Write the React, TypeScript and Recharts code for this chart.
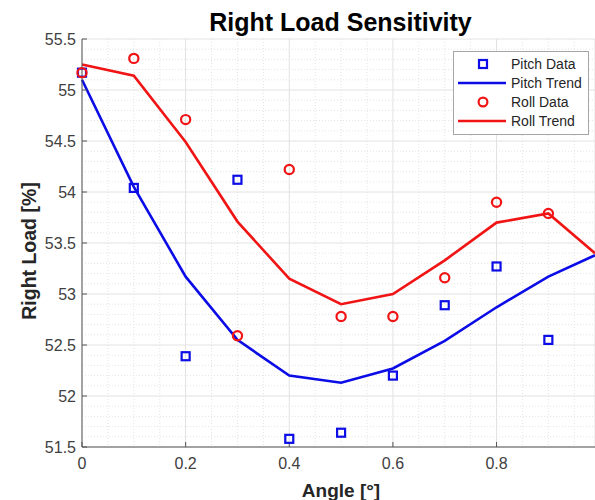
import {
  ComposedChart,
  Line,
  Scatter,
  XAxis,
  YAxis,
  CartesianGrid,
  Customized,
} from "recharts";

const angles = [0, 0.1, 0.2, 0.3, 0.4, 0.5, 0.6, 0.7, 0.8, 0.9];
const pitchData = [55.17, 54.04, 52.39, 54.12, 51.58, 51.64, 52.2, 52.89, 53.27, 52.55];
const rollData = [55.17, 55.31, 54.71, 52.59, 54.22, 52.78, 52.78, 53.16, 53.9, 53.79];

const trendAngles = [0, 0.1, 0.2, 0.3, 0.4, 0.5, 0.6, 0.7, 0.8, 0.9, 0.99];
const pitchTrend = [55.1, 54.05, 53.17, 52.55, 52.2, 52.13, 52.27, 52.54, 52.87, 53.17, 53.38];
const rollTrend = [55.25, 55.14, 54.49, 53.71, 53.15, 52.9, 53.0, 53.33, 53.7, 53.79, 53.4];

const xTicks = [0, 0.2, 0.4, 0.6, 0.8];
const yTicks = [51.5, 52, 52.5, 53, 53.5, 54, 54.5, 55, 55.5];
const xDomain = [0, 0.99];
const yDomain = [51.5, 55.5];

const FONT = "'Liberation Sans', Arial, sans-serif";
const BLUE = "#0c0ce6";
const RED = "#f01414";
const AXIS = "#555555";

const toPoints = (xs: number[], ys: number[]) => xs.map((x, i) => ({ x, y: ys[i] }));

const pitchPoints = toPoints(angles, pitchData);
const rollPoints = toPoints(angles, rollData);
const pitchTrendPoints = toPoints(trendAngles, pitchTrend);
const rollTrendPoints = toPoints(trendAngles, rollTrend);

// minor grid (matlab style dotted)
const minorX: number[] = [];
for (let i = 1; i < 20; i++) if (i % 4 !== 0) minorX.push(+(i * 0.05).toFixed(2));
const minorY: number[] = [];
for (let i = 1; i < 40; i++) if (i % 5 !== 0) minorY.push(+(51.5 + i * 0.1).toFixed(1));

const minorVertical = ({ offset }: any) => {
  if (!offset) return [];
  return minorX.map((v) => offset.left + ((v - xDomain[0]) / (xDomain[1] - xDomain[0])) * offset.width);
};
const minorHorizontal = ({ offset }: any) => {
  if (!offset) return [];
  return minorY.map((v) => offset.top + ((yDomain[1] - v) / (yDomain[1] - yDomain[0])) * offset.height);
};

const SquareMark = (props: any) => {
  const { cx, cy } = props;
  if (cx == null || cy == null) return <g />;
  return <rect x={cx - 4} y={cy - 4} width={8} height={8} fill="none" stroke={BLUE} strokeWidth={2.2} />;
};

const CircleMark = (props: any) => {
  const { cx, cy } = props;
  if (cx == null || cy == null) return <g />;
  return <circle cx={cx} cy={cy} r={4.6} fill="none" stroke={RED} strokeWidth={2.2} />;
};

const legendRows = [
  { label: "Pitch Data", kind: "square" },
  { label: "Pitch Trend", kind: "blueLine" },
  { label: "Roll Data", kind: "circle" },
  { label: "Roll Trend", kind: "redLine" },
];

function Overlay() {
  const rowY = [64, 83, 102, 121];
  return (
    <g fontFamily={FONT}>
      <text x={340.5} y={30.5} textAnchor="middle" fontSize={25} fontWeight="bold" fill="#000">
        Right Load Sensitivity
      </text>
      <text x={341} y={496.5} textAnchor="middle" fontSize={19} fontWeight="bold" fill="#262626">
        Angle [°]
      </text>
      <text
        x={36}
        y={251}
        transform="rotate(-90 36 251)"
        textAnchor="middle"
        fontSize={19.5}
        fontWeight="bold"
        fill="#262626"
      >
        Right Load [%]
      </text>

      <rect x={453.5} y={51.5} width={135} height={83} fill="#fff" stroke="#a6a6a6" strokeWidth={1} />
      {legendRows.map((r, i) => {
        const y = rowY[i];
        return (
          <g key={r.label}>
            {r.kind === "square" && (
              <rect x={479} y={y - 4} width={8} height={8} fill="none" stroke={BLUE} strokeWidth={2.2} />
            )}
            {r.kind === "circle" && <circle cx={483} cy={y} r={4.4} fill="none" stroke={RED} strokeWidth={2.2} />}
            {r.kind === "blueLine" && <line x1={458} x2={506} y1={y} y2={y} stroke={BLUE} strokeWidth={2.5} />}
            {r.kind === "redLine" && <line x1={458} x2={506} y1={y} y2={y} stroke={RED} strokeWidth={2.5} />}
            <text x={511} y={y + 5} fontSize={14} fill="#262626">
              {r.label}
            </text>
          </g>
        );
      })}
    </g>
  );
}

export default function App() {
  return (
    <div style={{ position: "absolute", left: 0, top: 0, width: 595, height: 500, background: "#fff" }}>
      <ComposedChart width={595} height={500} margin={{ top: 39, right: 0, bottom: 0, left: 0 }}>
        <CartesianGrid
          stroke="#e4e4e4"
          strokeDasharray="1 2"
          horizontalCoordinatesGenerator={minorHorizontal}
          verticalCoordinatesGenerator={minorVertical}
        />
        <CartesianGrid stroke="#e2e2e2" strokeWidth={1} />
        <XAxis
          type="number"
          dataKey="x"
          domain={xDomain}
          ticks={xTicks}
          interval={0}
          height={53}
          tickSize={-5}
          tickMargin={16}
          stroke={AXIS}
          tick={{ fill: "#404040", fontSize: 16, fontFamily: FONT }}
        />
        <XAxis
          xAxisId="top"
          orientation="top"
          type="number"
          dataKey="x"
          domain={xDomain}
          ticks={xTicks}
          interval={0}
          height={0}
          tickSize={-5}
          tick={false}
          stroke={AXIS}
        />
        <YAxis
          type="number"
          domain={yDomain}
          ticks={yTicks}
          interval={0}
          width={82}
          tickSize={-5}
          tickMargin={11}
          stroke={AXIS}
          tick={{ fill: "#404040", fontSize: 16, fontFamily: FONT }}
        />
        <Line
          data={pitchTrendPoints}
          dataKey="y"
          type="linear"
          stroke={BLUE}
          strokeWidth={2.6}
          dot={false}
          isAnimationActive={false}
        />
        <Line
          data={rollTrendPoints}
          dataKey="y"
          type="linear"
          stroke={RED}
          strokeWidth={2.6}
          dot={false}
          isAnimationActive={false}
        />
        <Scatter data={pitchPoints} dataKey="y" shape={SquareMark} isAnimationActive={false} />
        <Scatter data={rollPoints} dataKey="y" shape={CircleMark} isAnimationActive={false} />
        <Customized component={Overlay} />
      </ComposedChart>
    </div>
  );
}
